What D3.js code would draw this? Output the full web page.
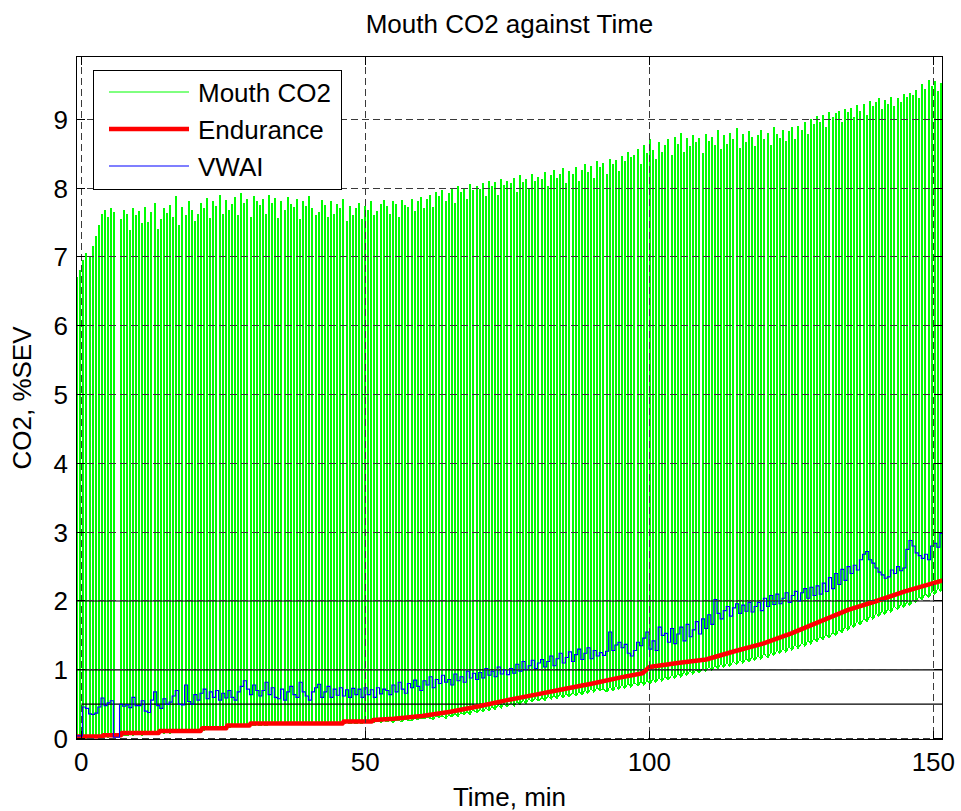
<!DOCTYPE html>
<html><head><meta charset="utf-8">
<script src="https://cdn.jsdelivr.net/npm/d3@7"></script>
<style>body{margin:0;background:#fff}svg{display:block}text{font-family:"Liberation Sans",Arial,sans-serif;fill:#000}</style>
</head><body><svg id="c" width="961" height="811"></svg>
<script>
const title = "Mouth CO2 against Time";
const xLabel = "Time, min";
const yLabel = "CO2, %SEV";
const xTicks = [0, 50, 100, 150];
const yTicks = [0, 1, 2, 3, 4, 5, 6, 7, 8, 9];
const legendLabels = ["Mouth CO2", "Endurance", "VWAI"];
const refLevels = [0.5, 1, 2];
const refStarts = [0, null, null];
const breathStart = -0.9, breathStep = 0.545;

const co2Peaks = [
 6.70,6.80,6.95,7.05,7.00,7.15,7.30,7.45,7.62,7.68,
 7.58,7.70,7.64,null,7.55,7.68,7.62,7.38,7.70,7.60,
 7.66,7.48,7.72,7.50,7.64,7.78,7.40,7.55,7.70,7.63,
 7.75,7.58,7.88,7.46,7.72,7.60,7.80,7.68,7.52,7.62,
 7.78,7.70,7.85,7.56,7.80,7.74,7.90,7.62,7.82,7.68,
 7.76,7.86,7.60,7.92,7.78,7.84,7.58,7.88,7.80,7.75,
 7.83,7.62,7.90,7.78,7.85,7.56,7.80,7.68,7.86,7.76,
 7.72,7.84,7.54,7.80,7.74,7.88,7.70,7.60,7.64,7.82,
 7.75,7.58,7.80,7.62,7.76,7.70,7.84,7.52,7.74,7.60,
 7.70,7.78,7.54,7.74,7.68,7.80,7.60,7.66,7.76,7.82,
 7.74,7.62,7.80,7.76,7.58,7.82,7.75,7.72,7.84,7.66,
 7.80,7.86,7.70,7.84,7.90,7.72,7.94,7.88,7.96,7.80,
 7.92,7.98,7.78,8.02,7.94,8.00,7.84,8.05,7.96,8.02,
 7.98,8.06,7.88,8.10,8.02,8.08,7.90,8.12,8.04,8.10,
 8.06,8.14,7.94,8.18,8.08,8.12,8.00,8.20,8.10,8.16,
 8.12,8.22,8.02,8.18,8.26,8.14,8.20,8.28,8.06,8.24,
 8.20,8.30,8.10,8.26,8.34,8.22,8.32,8.14,8.38,8.30,
 8.36,8.20,8.42,8.34,8.40,8.24,8.46,8.38,8.52,8.44,
 8.48,8.56,8.34,8.62,8.50,8.70,8.54,8.42,8.66,8.52,
 8.62,8.70,8.48,8.74,8.64,8.80,8.52,8.72,8.60,8.76,
 8.66,8.72,8.50,8.78,8.68,8.74,8.62,8.84,8.56,8.76,
 8.64,8.80,8.70,8.86,8.58,8.78,8.66,8.82,8.74,8.60,
 8.76,8.84,8.70,8.80,8.62,8.88,8.78,8.72,8.84,8.68,
 8.82,8.88,8.70,8.90,8.84,8.96,8.78,9.00,8.92,9.04,
 8.96,9.06,8.88,9.10,9.02,9.08,9.12,8.96,9.14,9.10,
 9.16,9.02,9.20,9.12,9.22,9.06,9.26,9.18,9.24,9.30,
 9.14,9.28,9.22,9.32,9.18,9.30,9.24,9.36,9.32,9.38,
 9.34,9.42,9.30,9.50,9.44,9.56,9.48,9.55,9.40,9.52,9.58
];

const co2Troughs = [
 0.00,0.00,0.01,0.00,0.02,0.01,0.02,0.03,0.02,0.03,
 0.02,0.03,0.03,null,0.04,0.05,0.04,0.06,0.05,0.06,
 0.06,0.05,0.07,0.06,0.07,0.08,0.07,0.09,0.08,0.09,
 0.08,0.09,0.10,0.09,0.10,0.09,0.10,0.11,0.10,0.12,
 0.13,0.12,0.14,0.13,0.14,0.15,0.14,0.16,0.17,0.16,
 0.17,0.18,0.17,0.18,0.19,0.18,0.20,0.19,0.20,0.19,
 0.20,0.19,0.20,0.21,0.20,0.21,0.20,0.21,0.20,0.21,
 0.20,0.21,0.20,0.21,0.20,0.21,0.20,0.21,0.21,0.20,
 0.21,0.20,0.21,0.20,0.21,0.22,0.21,0.23,0.22,0.23,
 0.22,0.23,0.22,0.24,0.23,0.25,0.24,0.25,0.24,0.26,
 0.25,0.26,0.24,0.27,0.26,0.25,0.28,0.27,0.26,0.29,
 0.28,0.30,0.29,0.31,0.30,0.28,0.32,0.31,0.33,0.30,
 0.34,0.32,0.36,0.33,0.37,0.35,0.39,0.36,0.41,0.38,
 0.42,0.40,0.44,0.41,0.46,0.43,0.48,0.45,0.50,0.47,
 0.51,0.48,0.53,0.50,0.55,0.52,0.57,0.54,0.58,0.55,
 0.59,0.56,0.61,0.58,0.62,0.59,0.64,0.60,0.65,0.62,
 0.66,0.63,0.68,0.64,0.70,0.66,0.72,0.68,0.74,0.70,
 0.72,0.68,0.75,0.70,0.76,0.72,0.78,0.73,0.80,0.75,
 0.81,0.77,0.83,0.78,0.84,0.80,0.86,0.82,0.88,0.84,
 0.90,0.86,0.92,0.88,0.94,0.90,0.96,0.92,0.98,0.94,
 1.00,0.96,1.02,0.98,1.04,1.00,1.06,1.02,1.08,1.04,
 1.10,1.05,1.12,1.08,1.14,1.10,1.16,1.12,1.18,1.14,
 1.20,1.16,1.23,1.18,1.25,1.21,1.28,1.24,1.30,1.26,
 1.33,1.29,1.36,1.32,1.39,1.35,1.42,1.38,1.45,1.41,
 1.48,1.44,1.51,1.47,1.54,1.50,1.58,1.54,1.62,1.58,
 1.66,1.62,1.70,1.66,1.74,1.70,1.78,1.74,1.82,1.78,
 1.85,1.81,1.88,1.84,1.92,1.88,1.95,1.91,1.98,1.94,
 2.02,1.98,2.06,2.02,2.10,2.06,2.14,2.10,2.18,2.14,2.20
];

const vwai = [
 0.04,0.04,0.46,0.44,0.36,0.35,0.37,0.46,0.59,0.48,
 0.52,0.55,0.02,0.02,0.50,0.47,0.49,0.45,0.60,0.48,
 0.48,0.55,0.40,0.38,0.56,0.68,0.48,0.44,0.58,0.50,
 0.53,0.62,0.70,0.50,0.49,0.78,0.54,0.50,0.64,0.56,
 0.66,0.72,0.58,0.68,0.60,0.70,0.56,0.66,0.59,0.70,
 0.60,0.56,0.68,0.76,0.84,0.72,0.64,0.78,0.70,0.62,
 0.70,0.82,0.64,0.74,0.60,0.58,0.72,0.56,0.68,0.76,
 0.64,0.60,0.82,0.68,0.62,0.56,0.68,0.74,0.79,0.60,
 0.68,0.76,0.60,0.72,0.63,0.74,0.62,0.71,0.60,0.73,
 0.64,0.72,0.60,0.74,0.64,0.71,0.60,0.74,0.65,0.72,
 0.70,0.64,0.78,0.68,0.82,0.72,0.66,0.80,0.74,0.85,
 0.76,0.70,0.84,0.78,0.90,0.74,0.86,0.80,0.92,0.82,
 0.86,0.78,0.94,0.84,0.90,0.82,0.98,0.88,0.95,0.86,
 0.96,0.88,1.02,0.92,0.98,0.90,1.04,0.94,1.00,0.93,
 1.02,0.95,1.08,0.98,1.12,1.00,1.06,1.14,1.02,1.10,
 1.15,1.04,1.12,1.20,1.06,1.16,1.24,1.10,1.18,1.26,
 1.12,1.22,1.30,1.15,1.24,1.32,1.16,1.28,1.20,1.25,
 1.21,1.27,1.55,1.28,1.36,1.40,1.32,1.37,1.24,1.20,
 1.28,1.40,1.35,1.46,1.55,1.30,1.42,1.28,1.62,1.50,
 1.53,1.40,1.60,1.38,1.52,1.62,1.42,1.66,1.48,1.58,
 1.70,1.52,1.74,1.60,1.80,1.66,2.02,1.82,1.74,1.86,
 1.92,1.78,1.90,1.96,1.82,1.94,1.85,1.98,1.84,1.92,
 1.98,1.86,2.04,1.92,2.08,1.95,2.10,1.96,2.04,2.12,
 1.98,2.08,2.14,2.00,2.12,2.18,2.04,2.20,2.08,2.22,
 2.10,2.26,2.14,2.34,2.18,2.40,2.24,2.46,2.30,2.50,
 2.40,2.52,2.45,2.60,2.68,2.72,2.60,2.55,2.48,2.42,
 2.38,2.33,2.35,2.45,2.40,2.50,2.44,2.48,2.75,2.88,
 2.80,2.70,2.66,2.62,2.68,2.60,2.80,2.84,2.78,2.98,3.05
];

const enduranceT = [-0.93,3.8,3.9,7,7.1,13.6,13.8,21,21.3,25.5,25.7,29.6,29.8,46,46.2,51.2,51.4,55,60,65,70,75,80,85,90,95,98.8,100,105,110,115,120,125,130,135,140,145,150,151.7];
const enduranceV = [0.03,0.03,0.05,0.05,0.08,0.08,0.11,0.11,0.15,0.15,0.19,0.19,0.22,0.22,0.25,0.25,0.27,0.29,0.33,0.39,0.47,0.56,0.64,0.72,0.80,0.89,0.95,1.04,1.10,1.15,1.27,1.38,1.53,1.70,1.87,2.00,2.14,2.26,2.30];

const W = 961, H = 811, L = 76, R = 943, T = 56, B = 740;
const xDom = [-0.93, 151.7], yDom = [-0.02, 9.92];
const x = d3.scaleLinear().domain(xDom).range([L, R]);
const y = d3.scaleLinear().domain(yDom).range([B, T]);
const svg = d3.select('#c');
const FS = 26;

svg.append('rect').attr('width', W).attr('height', H).attr('fill', '#fff');
svg.append('clipPath').attr('id', 'clip').append('rect')
  .attr('x', L).attr('y', T).attr('width', R - L).attr('height', B - T);
const plot = svg.append('g').attr('clip-path', 'url(#clip)');

// Mouth CO2 capnogram
const breathT = co2Peaks.map((_, i) => breathStart + i * breathStep);
let d = '', pen = false;
co2Peaks.forEach((pk, i) => {
  if (pk == null) { pen = false; return; }
  const x0 = Math.round(x(breathT[i])) + 0.5, x1 = x0 + 1;
  const tr = co2Troughs[i];
  d += (pen ? 'L' : 'M') + x0 + ',' + y(tr) + 'L' + x0 + ',' + y(pk) + 'L' + x1 + ',' + y(pk) + 'L' + x1 + ',' + y(tr);
  pen = true;
});
plot.append('path').attr('d', d).attr('fill', 'none').attr('stroke', '#00ff00')
  .attr('stroke-width', 1).attr('shape-rendering', 'crispEdges');

// grid
const grid = svg.append('g').attr('stroke', '#3a3a3a').attr('stroke-width', 1).attr('stroke-dasharray', '7,4').attr('shape-rendering', 'crispEdges');
xTicks.forEach(t => grid.append('line').attr('x1', x(t)).attr('x2', x(t)).attr('y1', T).attr('y2', B));
yTicks.forEach(v => grid.append('line').attr('x1', L).attr('x2', R).attr('y1', y(v)).attr('y2', y(v)));

// reference levels
refLevels.forEach((v, i) => {
  plot.append('line').attr('x1', x(refStarts[i] == null ? xDom[0] : refStarts[i])).attr('x2', x(xDom[1]))
    .attr('y1', y(v)).attr('y2', y(v)).attr('stroke', '#000').attr('stroke-width', 1.2);
});

// Endurance
const endPts = enduranceT.map((t, i) => [t, enduranceV[i]]);
plot.append('path').attr('d', d3.line().x(p => x(p[0])).y(p => y(p[1]))(endPts))
  .attr('fill', 'none').attr('stroke', '#ff0000').attr('stroke-width', 4.5).attr('stroke-linejoin', 'round');

// VWAI
const vPts = vwai.map((v, i) => [breathT[i], v]);
vPts.push([xDom[1], vwai[vwai.length - 1]]);
plot.append('path').attr('d', d3.line().curve(d3.curveStepAfter).x(p => x(p[0])).y(p => y(p[1]))(vPts))
  .attr('fill', 'none').attr('stroke', '#0000ff').attr('stroke-width', 1.1);

// axes box and ticks
svg.append('rect').attr('x', L + 0.5).attr('y', T + 0.5).attr('width', R - L - 1).attr('height', B - T - 1)
  .attr('fill', 'none').attr('stroke', '#000').attr('stroke-width', 1);
const tk = svg.append('g').attr('stroke', '#000').attr('stroke-width', 1).attr('shape-rendering', 'crispEdges');
const TL = 9;
xTicks.forEach(t => {
  tk.append('line').attr('x1', x(t)).attr('x2', x(t)).attr('y1', B).attr('y2', B - TL);
  tk.append('line').attr('x1', x(t)).attr('x2', x(t)).attr('y1', T).attr('y2', T + TL);
  svg.append('text').attr('x', x(t)).attr('y', B + 31).attr('text-anchor', 'middle').attr('font-size', FS).text(t);
});
yTicks.forEach(v => {
  tk.append('line').attr('x1', L).attr('x2', L + TL).attr('y1', y(v)).attr('y2', y(v));
  tk.append('line').attr('x1', R).attr('x2', R - TL).attr('y1', y(v)).attr('y2', y(v));
  svg.append('text').attr('x', L - 8).attr('y', y(v) + 9.5).attr('text-anchor', 'end').attr('font-size', FS).text(v);
});

// labels
svg.append('text').attr('x', (L + R) / 2).attr('y', 33).attr('text-anchor', 'middle').attr('font-size', FS).text(title);
svg.append('text').attr('x', (L + R) / 2).attr('y', 806).attr('text-anchor', 'middle').attr('font-size', FS).text(xLabel);
svg.append('text').attr('transform', `translate(31,${(T + B) / 2}) rotate(-90)`).attr('text-anchor', 'middle').attr('font-size', FS).text(yLabel);

// legend
const lg = svg.append('g');
lg.append('rect').attr('x', 93.5).attr('y', 70.5).attr('width', 248).attr('height', 119)
  .attr('fill', '#fff').attr('stroke', '#000').attr('stroke-width', 1);
const lgStyles = [{c: '#00ff00', w: 1}, {c: '#ff0000', w: 4.5}, {c: '#0000ff', w: 1.1}];
legendLabels.forEach((lab, i) => {
  const ry = 92 + i * 37;
  lg.append('line').attr('x1', 109).attr('x2', 189).attr('y1', ry).attr('y2', ry)
    .attr('stroke', lgStyles[i].c).attr('stroke-width', lgStyles[i].w);
  lg.append('text').attr('x', 198).attr('y', ry + 9.5).attr('font-size', FS).text(lab);
});
</script></body></html>
